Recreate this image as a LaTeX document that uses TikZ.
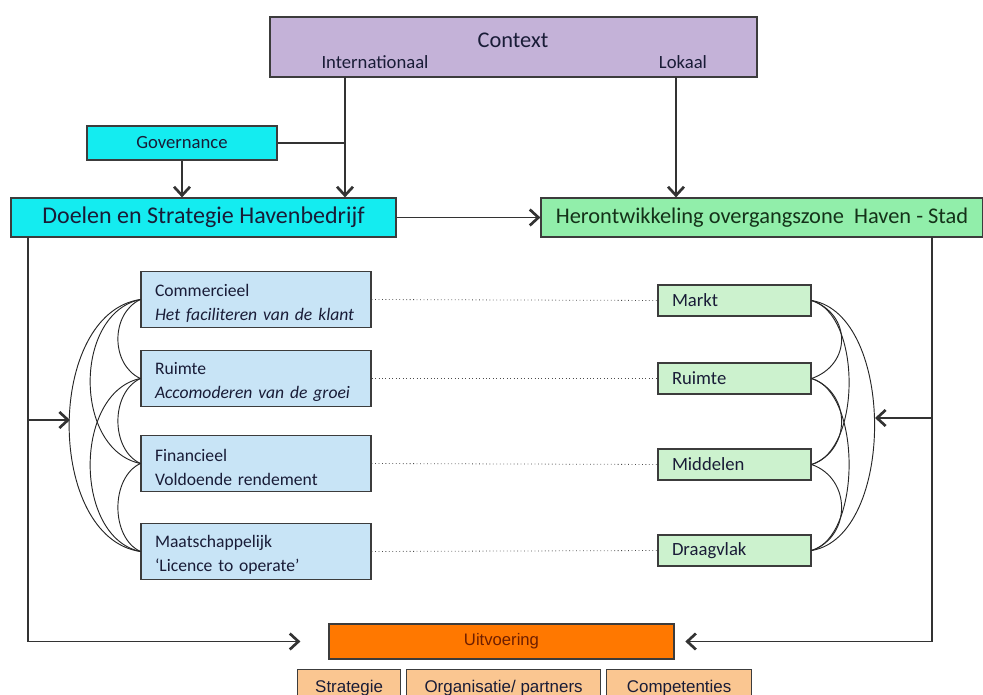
\documentclass[tikz,border=0pt]{standalone}
\usepackage{fontspec}
\setmainfont{Carlito}
\newfontfamily\arialfont{Liberation Sans}
\usetikzlibrary{arrows.meta}

\definecolor{ctxfill}{RGB}{196,178,216}
\definecolor{cyanfill}{RGB}{20,236,240}
\definecolor{herfill}{RGB}{145,238,170}
\definecolor{bluefill}{RGB}{200,228,246}
\definecolor{greenfill}{RGB}{204,242,206}
\definecolor{orangefill}{RGB}{255,120,0}
\definecolor{peachfill}{RGB}{250,198,145}
\definecolor{edge}{RGB}{60,60,60}
\definecolor{ink}{RGB}{25,28,55}
\definecolor{uitink}{RGB}{110,30,0}

% extra room above the first line of a two-line box
\newcommand\aimstrut{\rule{0pt}{14.4pt}}

\begin{document}
\begin{tikzpicture}[x=0.75pt,y=-0.75pt,
  base/.style={draw=edge,line width=0.9pt,inner sep=0pt,text=ink},
  ctxbox/.style={base,fill=ctxfill},
  cyanbox/.style={base,fill=cyanfill},
  herbox/.style={base,fill=herfill,text={rgb,255:red,20;green,50;blue,25}},
  aimbox/.style={base,fill=bluefill,minimum width=172.5pt,minimum height=42pt,
     text width=151.5pt,align=left,font=\fontsize{13.2}{18}\selectfont},
  mgbox/.style={base,fill=greenfill,minimum width=114.75pt,minimum height=23.25pt,
     text width=93.75pt,align=left,font=\fontsize{14}{16}\selectfont},
  uitbox/.style={base,fill=orangefill,text=uitink,font=\arialfont\fontsize{12.5}{14}\selectfont},
  subbox/.style={base,fill=peachfill,text=ink,font=\arialfont\fontsize{12.7}{15}\selectfont},
  plain/.style={inner sep=0pt,text=ink},
  link/.style={draw=black!80,line width=0.8pt},
  arr/.style={link,-{Straight Barb[length=6.5pt,width=12pt,line width=2pt]}},
  dots/.style={draw=black!70,line width=0.6pt,dotted},
  bow/.style={draw=black!85,line width=0.7pt}
]
\useasboundingbox (0,0) rectangle (983,695);

% context band
\node[ctxbox,minimum width=365.25pt,minimum height=45pt] (ctx) at (513.5,47) {};
\node[plain,font=\fontsize{16.8}{18}\selectfont] (ctxtitle) at (513,40) {Context};
\node[plain,font=\fontsize{14}{16}\selectfont] (intl) at (375,62) {Internationaal};
\node[plain,font=\fontsize{14}{16}\selectfont] (lok) at (683,62) {Lokaal};
\coordinate (cI) at (345,77);
\coordinate (cL) at (676,77);

% governance and the two main blocks
\node[cyanbox,minimum width=142.5pt,minimum height=25.5pt,font=\fontsize{14}{16}\selectfont] (gov) at (182,143) {Governance};
\node[cyanbox,minimum width=288.75pt,minimum height=29.25pt,font=\fontsize{18}{20}\selectfont] (doel) at (203.5,217.5) {Doelen en Strategie Havenbedrijf};
\node[herbox,minimum width=331.5pt,minimum height=29.25pt,font=\fontsize{16.8}{19}\selectfont] (her) at (762,217.5) {Herontwikkeling overgangszone~~Haven - Stad};

\draw[arr] (cI) -- (cI |- doel.north);
\draw[arr] (cL) -- (cL |- her.north);
\draw[link] (gov.east) -- (cI |- gov.east);
\draw[arr] (gov.south) -- (gov.south |- doel.north);
\draw[arr] (doel.east) -- (her.west);

% port objectives
\node[aimbox] (a1) at (256,299.5) {\aimstrut Commercieel\\\mbox{\textit{Het faciliteren van de klant}}};
\node[aimbox] (a2) at (256,378.5) {\aimstrut Ruimte\\\mbox{\textit{Accomoderen van de groei}}};
\node[aimbox] (a3) at (256,463.5) {\aimstrut Financieel\\Voldoende rendement};
\node[aimbox] (a4) at (256,551.5) {\aimstrut Maatschappelijk\\`Licence to operate'};

% redevelopment aspects
\node[mgbox] (m1) at (734.5,300.5) {Markt};
\node[mgbox] (m2) at (734.5,378.5) {Ruimte};
\node[mgbox] (m3) at (734.5,464.5) {Middelen};
\node[mgbox] (m4) at (734.5,550.5) {Draagvlak};

\foreach \i in {1,2,3,4} \draw[dots] (a\i.east) -- (m\i.west);

% brackets joining the objectives
\foreach \p/\q/\k in {a1/a2/30,a2/a3/30,a3/a4/30,a1/a3/67,a2/a4/67,a1/a4/95}
  \draw[bow] (\p.west) .. controls +(-\k,14) and +(-\k,-14) .. (\q.west);
\foreach \p/\q/\k in {m1/m2/40,m2/m3/40,m3/m4/40,m1/m3/50,m2/m4/50,m1/m4/84}
  \draw[bow] (\p.east) .. controls +(\k,14) and +(\k,-14) .. (\q.east);

% execution
\node[uitbox,minimum width=258.75pt,minimum height=26.25pt] (uit) at (501.5,641.5) {Uitvoering};
\node[subbox,minimum width=77.25pt,minimum height=28pt,anchor=north west] (s1) at (297,669) {Strategie};
\node[subbox,minimum width=145.5pt,minimum height=28pt,anchor=north west] (s2) at (406,669) {Organisatie/ partners};
\node[subbox,minimum width=108.75pt,minimum height=28pt,anchor=north west] (s3) at (606,669) {Competenties};

% feedback lines
\coordinate (lt) at (28,237);
\coordinate (rt) at (932,237);
\coordinate (lm) at (28,420);
\coordinate (rm) at (932,418);
\coordinate (lbow) at (70,420);
\coordinate (rbow) at (875,418);
\draw[arr,shorten >=21pt] (lt) |- (uit.west);
\draw[arr,shorten >=8pt] (rt) |- (uit.east);
\draw[arr] (lm) -- (lbow);
\draw[arr] (rm) -- (rbow);
\end{tikzpicture}
\end{document}
